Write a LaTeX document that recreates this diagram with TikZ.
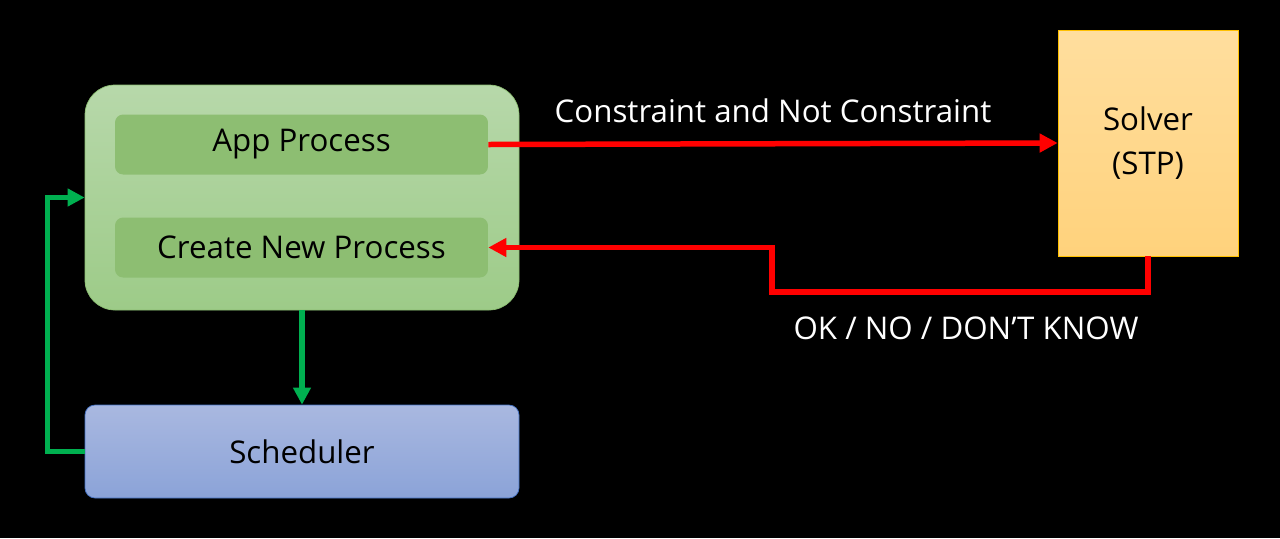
\documentclass[tikz,border=0pt]{standalone}
\usepackage{fontspec}
\setmainfont{Open Sans}
\usetikzlibrary{arrows.meta}
\definecolor{outertop}{HTML}{B7D8AA}
\definecolor{outerbot}{HTML}{9DCB88}
\definecolor{outerline}{HTML}{8CBF72}
\definecolor{innerfill}{HTML}{8DBE72}
\definecolor{schedtop}{HTML}{A9B8E0}
\definecolor{schedbot}{HTML}{8BA3D8}
\definecolor{schedline}{HTML}{4472C4}
\definecolor{solvtop}{HTML}{FFDE9E}
\definecolor{solvbot}{HTML}{FFD27C}
\definecolor{solvline}{HTML}{FFC000}
\definecolor{arrred}{HTML}{FF0000}
\definecolor{arrgreen}{HTML}{00B050}
\begin{document}
\begin{tikzpicture}[x=0.02cm,y=-0.02cm,
    every node/.style={font=\fontsize{17.8}{22}\selectfont},
    procbox/.style={draw=none,fill=innerfill,rounded corners=0.16cm,
      minimum width=7.46cm,minimum height=1.2cm},
    redarrow/.style={draw=arrred,line width=0.11cm,
      -{Triangle[length=0.36cm,width=0.36cm]}},
    greenarrow/.style={draw=arrgreen,line width=0.11cm,
      -{Triangle[length=0.34cm,width=0.34cm]}}]
      \def\px{0.02cm}

      \fill[black] (0,0) rectangle (1280,538);

      \node (outer) at (302,197.5)
            [draw=outerline,top color=outertop,bottom color=outerbot,
             rounded corners=0.6cm,minimum width=434*\px,minimum height=225*\px] {};

      \node (app) at (301.5,144.5) [procbox] {App Process};
      \node (create) at (301.5,247.5) [procbox] {Create New Process};

      \node (sched) at (302,451.5)
            [draw=schedline,top color=schedtop,bottom color=schedbot,
             rounded corners=0.2cm,minimum width=434*\px,minimum height=93*\px]
            {Scheduler};

      \node (solver) at (1148,143)
            [draw=solvline,top color=solvtop,bottom color=solvbot,
             minimum width=180*\px,minimum height=226*\px,align=center]
            {Solver\\[3pt](STP)};

      \coordinate (turn) at (772,292);

      \draw[redarrow] (app.east) -- (solver.west)
      node[midway,above=0.25cm,text=white] {Constraint and Not Constraint};

      \draw[redarrow] (solver.south) |- (turn) |- (create.east);

      \node[text=white] (answer) at (966,328) {OK / NO / DON’T KNOW};

      \draw[greenarrow] (outer.south) -- (sched.north);

      \draw[greenarrow] (sched.west) -- ++(-37,0) |- (outer.west);
    \end{tikzpicture}
\end{document}
